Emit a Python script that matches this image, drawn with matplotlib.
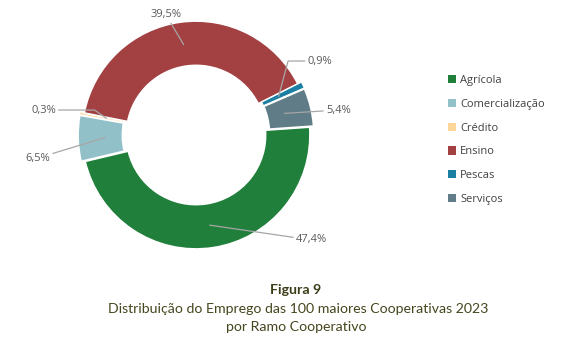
import numpy as np
import matplotlib
matplotlib.use("Agg")
import matplotlib.pyplot as plt
from matplotlib.patches import Patch

ramos = ["Agrícola", "Comercialização", "Crédito", "Ensino", "Pescas", "Serviços"]
percent = [47.4, 6.5, 0.3, 39.5, 0.9, 5.4]
labels = ["47,4%", "6,5%", "0,3%", "39,5%", "0,9%", "5,4%"]
cores = ["#1f7f3b", "#92c0c8", "#ffd79a", "#a34142", "#1a7fa3", "#5f7c87"]

plt.rcParams['font.family'] = ['Open Sans', 'DejaVu Sans']

W, H = 567, 355
fig = plt.figure(figsize=(W / 100, H / 100), dpi=100)
ax = fig.add_axes([0, 0, 1, 1])

start = 4
explode = [0, 0.035, 0.035, 0, 0.035, 0.035]
wedges, _ = ax.pie(percent, colors=cores, startangle=start, counterclock=False,
                   radius=1, explode=explode,
                   wedgeprops=dict(width=0.39, edgecolor="white", linewidth=1.3))
# thin slices: lighter border so the colour still shows
wedges[2].set_linewidth(0.4)
wedges[4].set_linewidth(0.8)

# donut centre in pixels and outer radius (pie() resets limits, so set after)
cx, cy, R = 196, 135, 114
ax.set_xlim(-cx / R, (W - cx) / R)
ax.set_ylim(-(H - cy) / R, cy / R)
ax.set_aspect("equal")
ax.axis("off")

# label text positions (data units) and leader line style
txt_pos = {
    "47,4%": ((0.877, -0.921), "left", None),
    "6,5%": ((-1.28, -0.202), "right", None),
    "0,3%": ((-1.23, 0.219), "right", "angle,angleA=0,angleB=145,rad=0"),
    "39,5%": ((-0.263, 1.053), "center", None),
    "0,9%": ((0.98, 0.649), "left", "angle,angleA=0,angleB=75,rad=0"),
    "5,4%": ((1.14, 0.219), "left", None),
}

for w, lab in zip(wedges, labels):
    mid = np.deg2rad((w.theta1 + w.theta2) / 2)
    px, py = 0.8 * np.cos(mid), 0.8 * np.sin(mid)
    (tx, ty), ha, cs = txt_pos[lab]
    ap = dict(arrowstyle="-", color="#a6a6a6", lw=0.9, shrinkA=0, shrinkB=0)
    if cs:
        ap["connectionstyle"] = cs
    ax.annotate(lab, xy=(px, py), xytext=(tx, ty), ha=ha, va="center",
                fontsize=8, color="#595959", arrowprops=ap)

handles = [Patch(facecolor=c, edgecolor="none") for c in cores]
fig.legend(handles, ramos, loc="upper left", bbox_to_anchor=(438 / W, 1 - 65 / H),
           frameon=False, fontsize=8, handlelength=0.75, handleheight=0.75,
           handletextpad=0.35, labelspacing=1.15, labelcolor="#404040")

fig.text(296 / W, 1 - 290 / H, "Figura 9", ha="center", va="center",
         fontsize=10.2, fontweight="bold", color="#3d3d1a", family="Lato")
fig.text(298 / W, 1 - 309 / H, "Distribuição do Emprego das 100 maiores Cooperativas 2023",
         ha="center", va="center", fontsize=10.2, color="#46461f", family="Lato")
fig.text(296 / W, 1 - 327 / H, "por Ramo Cooperativo",
         ha="center", va="center", fontsize=10.2, color="#46461f", family="Lato")

fig.savefig("out.png", dpi=100)
